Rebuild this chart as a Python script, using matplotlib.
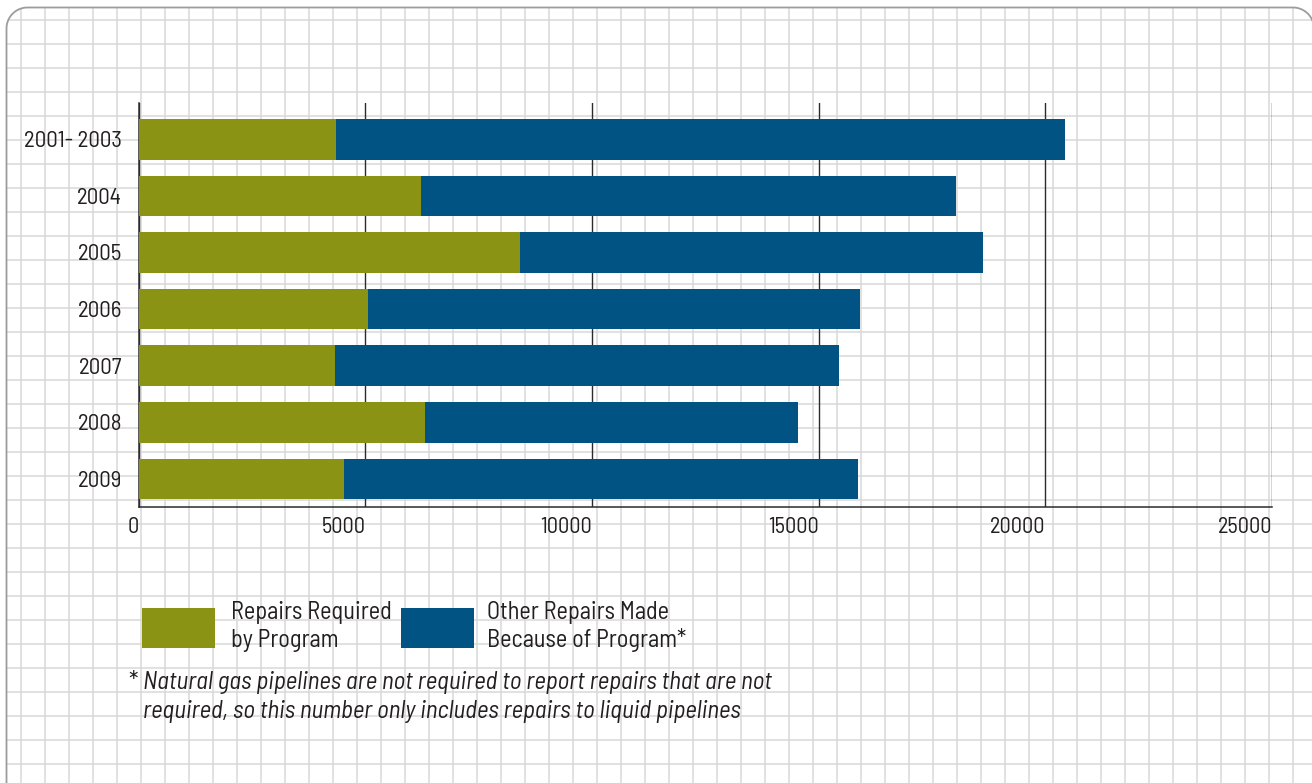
import numpy as np
import matplotlib
matplotlib.use("Agg")
import matplotlib.pyplot as plt
from matplotlib.patches import Rectangle, Polygon

# ---------------- data ----------------
categories = ["2001- 2003", "2004", "2005", "2006", "2007", "2008", "2009"]
required = [4350, 6230, 8410, 5060, 4330, 6320, 4530]
other = [16080, 11800, 10215, 10850, 11120, 8225, 11340]
x_ticks = [0, 5000, 10000, 15000, 20000, 25000]
x_tick_labels = ["0", "5000", "10000", "15000", "20000", "25000"]
legend_required = ["Repairs Required", "by Program"]
legend_other = ["Other Repairs Made", "Because of Program*"]
footnote = ["Natural gas pipelines are not required to report repairs that are not",
            "required, so this number only includes repairs to liquid pipelines"]

GREEN = "#8a9314"
BLUE = "#005383"
TXT = "#231f20"
FONT = "Barlow Semi Condensed"

W, H = 1312, 783
fig = plt.figure(figsize=(W / 100, H / 100), dpi=100)
fig.patch.set_facecolor("white")

# ---------------- graph-paper background ----------------
bg = fig.add_axes([0, 0, 1, 1], zorder=0)
bg.set_xlim(0, W)
bg.set_ylim(H, 0)
bg.axis("off")

# rounded frame (only the two top corners are inside the picture)
x0, y0, x1, y1, r = 6.5, 7.5, 1314.0, 820.0, 21.0
t = np.linspace(0, np.pi / 2, 20)
tl = np.column_stack([x0 + r - r * np.cos(t), y0 + r - r * np.sin(t)])
tr = np.column_stack([x1 - r + r * np.sin(t), y0 + r - r * np.cos(t)])
frame_pts = np.vstack([[[x0, y1]], tl, tr, [[x1, y1]]])
frame_fill = Polygon(frame_pts, closed=True, fc="white", ec="none", zorder=0.5)
bg.add_patch(frame_fill)
for x in np.arange(21, W + 24, 24):
    ln, = bg.plot([x, x], [0, H], color="#d9d9d9", lw=1.1, solid_capstyle="butt", zorder=1)
    ln.set_clip_path(frame_fill)
for y in np.arange(19.7, H + 24, 24):
    ln, = bg.plot([0, W], [y, y], color="#d9d9d9", lw=1.1, solid_capstyle="butt", zorder=1)
    ln.set_clip_path(frame_fill)
bg.add_patch(Polygon(frame_pts, closed=False, fc="none", ec="#9c9c9c", lw=1.3, zorder=1.5))

# ---------------- main chart ----------------
left, right, top, bottom = 138.6, 1272.0, 103.0, 507.0
ax = fig.add_axes([left / W, 1 - bottom / H, (right - left) / W, (bottom - top) / H], zorder=2)
ax.patch.set_alpha(0)
ypos = np.arange(len(categories))
ax.barh(ypos, required, height=0.716, color=GREEN, zorder=3)
ax.barh(ypos, other, left=required, height=0.716, color=BLUE, zorder=3)
ax.set_xlim(0, 25000)
ax.set_ylim(6.496, -0.641)
ax.set_xticks(x_ticks)
ax.set_xticklabels(x_tick_labels, ha="right", fontsize=16, color=TXT, family=FONT)
ax.set_yticks(ypos)
ax.set_yticklabels(categories, fontsize=16.5, color=TXT, family=FONT)
ax.tick_params(axis="x", length=0, pad=7)
ax.tick_params(axis="y", length=0, pad=12)
ax.set_axisbelow(True)
ax.xaxis.grid(True, color="#2b2b2b", lw=1.0)
ax.yaxis.grid(False)
for s in ["top", "right"]:
    ax.spines[s].set_visible(False)
for s in ["left", "bottom"]:
    ax.spines[s].set_color("#2b2b2b")
    ax.spines[s].set_linewidth(1.1)

# ---------------- legend ----------------
bg.add_patch(Rectangle((142, 608), 73, 40, color=GREEN, lw=0, zorder=5))
bg.add_patch(Rectangle((401, 608), 73, 40, color=BLUE, lw=0, zorder=5))
for i, s in enumerate(legend_required):
    bg.text(231, 619 + 27.7 * i, s, va="baseline", ha="left", fontsize=17.5, color=TXT,
            family=FONT, zorder=6)
for i, s in enumerate(legend_other):
    bg.text(487, 619 + 27.7 * i, s, va="baseline", ha="left", fontsize=17.5, color=TXT,
            family=FONT, zorder=6)

# ---------------- footnote ----------------
bg.text(128, 689, "*", va="baseline", ha="left", fontsize=18, color=TXT, family=FONT, zorder=6)
for i, s in enumerate(footnote):
    bg.text(143, 689 + 29 * i, s, va="baseline", ha="left", fontsize=18, color=TXT,
            family=FONT, style="italic", zorder=6)

fig.savefig("out.png", dpi=100)
